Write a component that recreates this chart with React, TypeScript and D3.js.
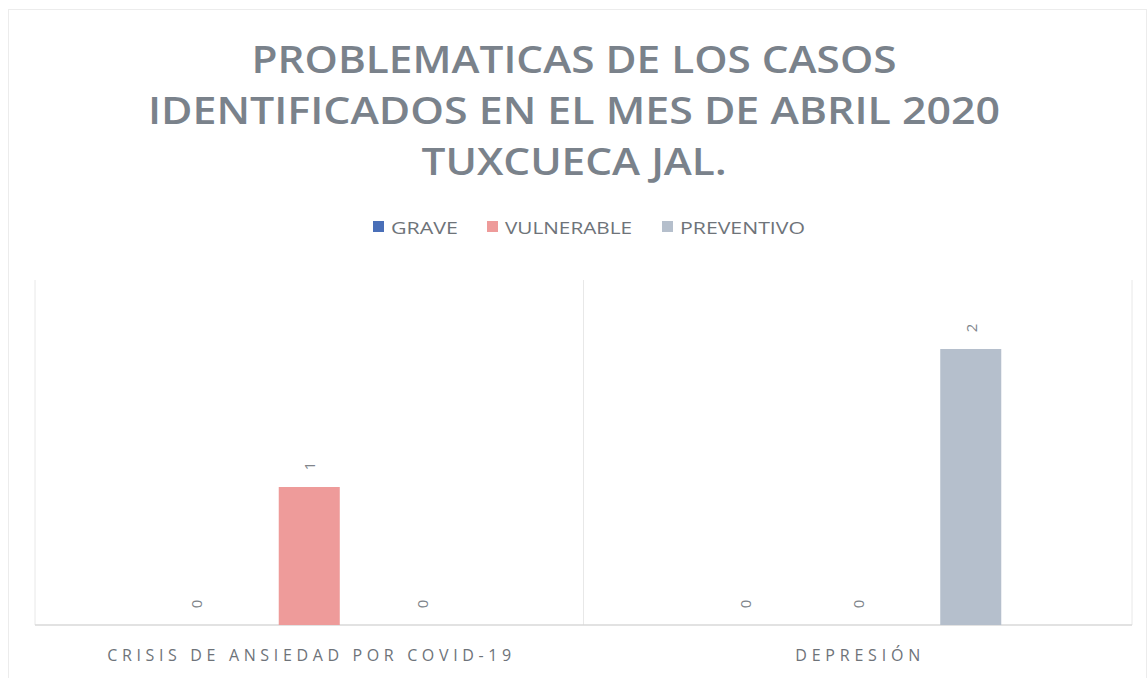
import React from 'react';
import * as d3 from 'd3';

const categories = ['CRISIS DE ANSIEDAD POR COVID-19', 'DEPRESIÓN'];
const seriesNames = ['GRAVE', 'VULNERABLE', 'PREVENTIVO'];
const grave = [0, 0];
const vulnerable = [1, 0];
const preventivo = [0, 2];
const titleLines = [
  'PROBLEMATICAS DE LOS CASOS',
  'IDENTIFICADOS EN EL MES DE ABRIL 2020',
  'TUXCUECA JAL.',
];

const colors = ['#4a6fb8', '#ee9b9a', '#b5bfcc'];

const W = 1148;
const H = 678;
const margin = { top: 280, right: 16, bottom: 53, left: 35 };

export default function App() {
  const values = [grave, vulnerable, preventivo];
  const innerBottom = H - margin.bottom;

  const x0 = d3.scaleBand<string>()
    .domain(categories)
    .range([margin.left, W - margin.right])
    .paddingInner(0)
    .paddingOuter(0);

  const x1 = d3.scaleBand<string>()
    .domain(seriesNames)
    .range([0, x0.bandwidth()])
    .paddingInner(0.46)
    .paddingOuter(1.157);

  const y = d3.scaleLinear().domain([0, 2.5]).range([innerBottom, margin.top]);

  const titleWidths = [645, 852, 305];
  const catWidths = [404, 125];

  const legendItems = [
    { x: 373, w: 67 },
    { x: 487, w: 127 },
    { x: 662, w: 125 },
  ];

  return (
    <svg width={W} height={H} style={{ position: 'absolute', left: 0, top: 0, background: '#fff' }}>
      <rect x={0} y={0} width={W} height={H} fill="#ffffff" />
      <rect x={8.5} y={9.5} width={W - 10} height={H - 4} fill="none" stroke="#ececec" />

      {titleLines.map((t, i) => (
        <text
          key={t}
          x={W / 2}
          y={73 + i * 51}
          textAnchor="middle"
          fontFamily="'Open Sans', sans-serif"
          fontWeight={600}
          fontSize={38}
          fill="#7a828b"
          textLength={titleWidths[i]}
          lengthAdjust="spacingAndGlyphs"
        >
          {t}
        </text>
      ))}

      {seriesNames.map((s, i) => (
        <g key={s}>
          <rect x={legendItems[i].x} y={221} width={11} height={11} fill={colors[i]} />
          <text
            x={legendItems[i].x + 18}
            y={234}
            fontFamily="'Open Sans', sans-serif"
            fontSize={17}
            fill="#6e7379"
            textLength={legendItems[i].w}
            lengthAdjust="spacingAndGlyphs"
          >
            {s}
          </text>
        </g>
      ))}

      {/* separators */}
      {[...categories.map((c) => x0(c)!), W - margin.right].map((xv, i) => (
        <line key={i} x1={xv} x2={xv} y1={margin.top} y2={innerBottom} stroke="#e8e8e8" strokeWidth={1} />
      ))}
      <line x1={margin.left} x2={W - margin.right} y1={innerBottom} y2={innerBottom} stroke="#d9d9d9" strokeWidth={1.5} />

      {categories.map((c, ci) => (
        <g key={c} transform={`translate(${x0(c)},0)`}>
          {seriesNames.map((s, si) => {
            const v = values[si][ci];
            const bx = x1(s)!;
            const cx = bx + x1.bandwidth() / 2;
            const ly = y(v) - 21;
            return (
              <g key={s}>
                {v > 0 && (
                  <rect x={bx} y={y(v)} width={x1.bandwidth()} height={innerBottom - y(v)} fill={colors[si]} />
                )}
                <text
                  transform={`translate(${cx},${ly}) rotate(-90)`}
                  textAnchor="middle"
                  dominantBaseline="central"
                  fontFamily="'Open Sans', sans-serif"
                  fontSize={15}
                  fill="#80858b"
                >
                  {v}
                </text>
              </g>
            );
          })}
          <text
            x={x0.bandwidth() / 2}
            y={661}
            textAnchor="middle"
            fontFamily="'Open Sans', sans-serif"
            fontSize={16}
            fill="#6e7379"
            textLength={catWidths[ci]}
            lengthAdjust="spacing"
          >
            {c}
          </text>
        </g>
      ))}
    </svg>
  );
}
